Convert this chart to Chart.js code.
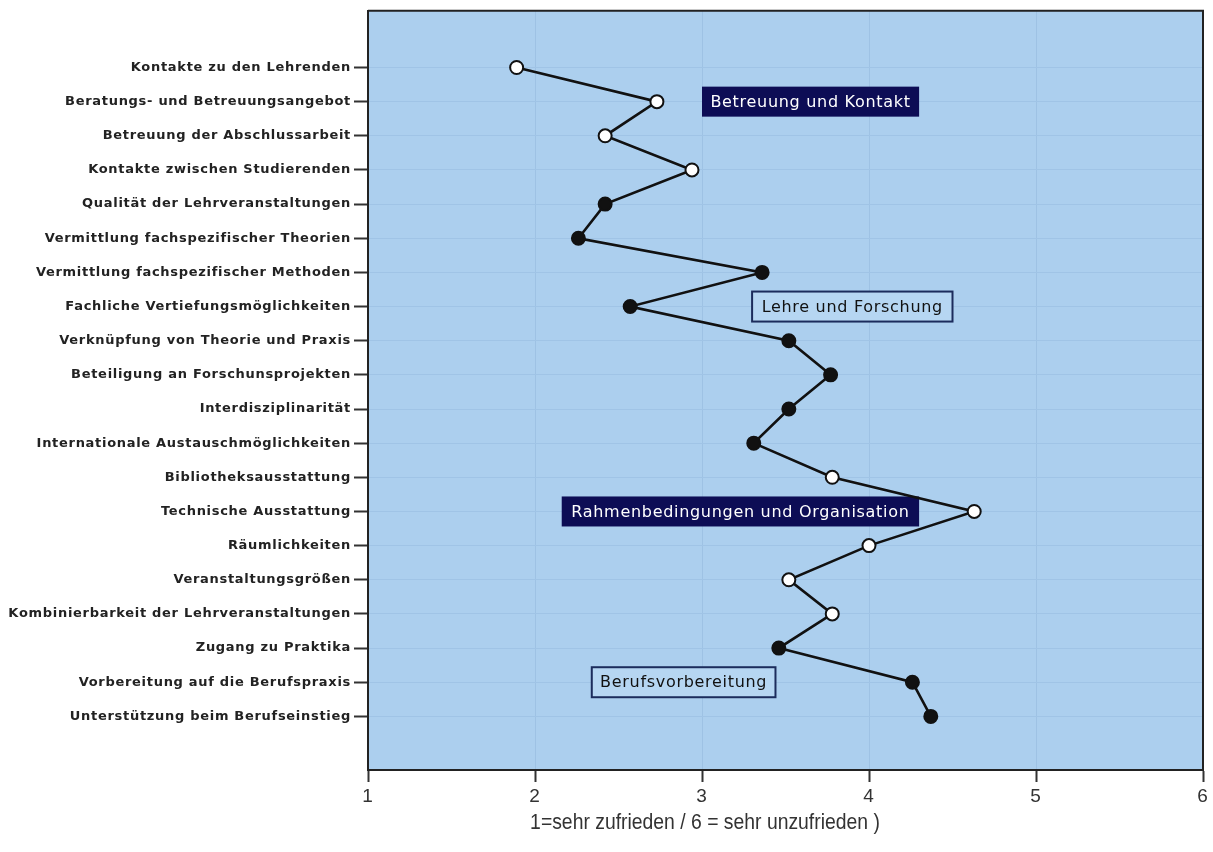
<!DOCTYPE html>
<html>
<head>
<meta charset="utf-8">
<script src="https://cdn.jsdelivr.net/npm/chart.js@4.4.1/dist/chart.umd.min.js"></script>
<style>
  body { margin: 0; background: #fff; }
  canvas { display: block; }
</style>
</head>
<body>
<canvas id="chart" width="1213" height="852"></canvas>
<script>
// items, top to bottom
const categories = [
  'Kontakte zu den Lehrenden',
  'Beratungs- und Betreuungsangebot',
  'Betreuung der Abschlussarbeit',
  'Kontakte zwischen Studierenden',
  'Qualität der Lehrveranstaltungen',
  'Vermittlung fachspezifischer Theorien',
  'Vermittlung fachspezifischer Methoden',
  'Fachliche Vertiefungsmöglichkeiten',
  'Verknüpfung von Theorie und Praxis',
  'Beteiligung an Forschunsprojekten',
  'Interdisziplinarität',
  'Internationale Austauschmöglichkeiten',
  'Bibliotheksausstattung',
  'Technische Ausstattung',
  'Räumlichkeiten',
  'Veranstaltungsgrößen',
  'Kombinierbarkeit der Lehrveranstaltungen',
  'Zugang zu Praktika',
  'Vorbereitung auf die Berufspraxis',
  'Unterstützung beim Berufseinstieg'
];
const scores = [1.89, 2.73, 2.42, 2.94, 2.42, 2.26, 3.36, 2.57, 3.52, 3.77,
                3.52, 3.31, 3.78, 4.63, 4.00, 3.52, 3.78, 3.46, 4.26, 4.37];
const groupOfItem = [0, 0, 0, 0, 1, 1, 1, 1, 1, 1, 1, 1, 2, 2, 2, 2, 2, 3, 3, 3];
const groupNames = ['Betreuung und Kontakt', 'Lehre und Forschung',
                    'Rahmenbedingungen und Organisation', 'Berufsvorbereitung'];
const xTicks = [1, 2, 3, 4, 5, 6];
const xTitle = '1=sehr zufrieden / 6 = sehr unzufrieden )';

// look of the group labels (x in scale units, row = item index)
const groupBoxes = [
  { x0: 3.0, x1: 4.3, row: 1, dark: true },
  { x0: 3.3, x1: 4.5, row: 7, dark: false },
  { x0: 2.16, x1: 4.3, row: 13, dark: true },
  { x0: 2.34, x1: 3.44, row: 18, dark: false }
];
const openMarker = [true, false, true, false];

const panel = {
  id: 'panel',
  beforeDraw(chart) {
    const { ctx, chartArea: a } = chart;
    ctx.save();
    ctx.fillStyle = '#accfee';
    ctx.fillRect(a.left, a.top, a.right - a.left, a.bottom - a.top);
    ctx.restore();
    // wide spacing for the item labels
    ctx.letterSpacing = '0.7px';
  },
  beforeDatasetsDraw(chart) {
    const { ctx, chartArea: a, scales: { x, y } } = chart;
    ctx.save();
    ctx.strokeStyle = '#222';
    ctx.lineWidth = 2;
    ctx.beginPath();
    ctx.moveTo(a.left, a.top);
    ctx.lineTo(a.right, a.top);
    ctx.lineTo(a.right, a.bottom);
    ctx.stroke();

    ctx.letterSpacing = '0.7px';
    ctx.font = '16px "DejaVu Sans"';
    ctx.textAlign = 'center';
    ctx.textBaseline = 'middle';
    groupBoxes.forEach((b, i) => {
      const l = x.getPixelForValue(b.x0);
      const r = x.getPixelForValue(b.x1);
      const cy = y.getPixelForValue(b.row);
      const h = 30;
      if (b.dark) {
        ctx.fillStyle = '#0d0d55';
        ctx.fillRect(l, cy - h / 2, r - l, h);
        ctx.fillStyle = '#fff';
      } else {
        ctx.fillStyle = '#b6d6f2';
        ctx.fillRect(l, cy - h / 2, r - l, h);
        ctx.strokeStyle = '#1c2c5c';
        ctx.lineWidth = 2;
        ctx.strokeRect(l, cy - h / 2, r - l, h);
        ctx.fillStyle = '#111';
      }
      ctx.fillText(groupNames[i], (l + r) / 2, cy + 1);
    });
    ctx.restore();
  },
  afterDraw(chart) {
    const { ctx } = chart;
    ctx.save();
    ctx.letterSpacing = '0px';
    ctx.font = '22px "Liberation Sans"';
    ctx.fillStyle = '#333';
    ctx.textAlign = 'center';
    ctx.textBaseline = 'middle';
    ctx.translate(705, 823);
    ctx.scale(0.88, 1);
    ctx.fillText(xTitle, 0, 0);
    ctx.restore();
  }
};

new Chart(document.getElementById('chart'), {
  type: 'scatter',
  data: {
    datasets: [{
      data: scores.map((v, i) => ({ x: v, y: i })),
      showLine: true,
      borderColor: '#111',
      borderWidth: 2.6,
      pointRadius: 6.5,
      pointHoverRadius: 6.5,
      pointBorderColor: '#111',
      pointBorderWidth: 2,
      pointBackgroundColor: groupOfItem.map(g => openMarker[g] ? '#fff' : '#111')
    }]
  },
  options: {
    responsive: false,
    devicePixelRatio: 1,
    animation: false,
    layout: { padding: { left: 0, right: 10, top: 8, bottom: 0 } },
    plugins: { legend: { display: false }, tooltip: { enabled: false } },
    scales: {
      x: {
        type: 'linear',
        min: 1,
        max: 6,
        afterBuildTicks: s => { s.ticks = xTicks.map(v => ({ value: v })); },
        afterFit: s => { s.height = 82; },
        grid: { color: '#9ec2e4', lineWidth: 1, tickColor: '#333', tickLength: 12, tickWidth: 2 },
        border: { color: '#222', width: 2 },
        ticks: { color: '#333', font: { family: 'Liberation Sans', size: 19 }, padding: 3 }
      },
      y: {
        type: 'linear',
        reverse: true,
        min: -1.66,
        max: 20.57,
        afterBuildTicks: s => { s.ticks = categories.map((c, i) => ({ value: i })); },
        afterFit: s => { s.width = 368; },
        grid: { color: '#a0c4e6', lineWidth: 1, tickColor: '#333', tickLength: 14, tickWidth: 2 },
        border: { color: '#222', width: 2 },
        ticks: {
          autoSkip: false,
          color: '#222',
          font: { family: 'DejaVu Sans', size: 13, weight: 'bold' },
          padding: 3,
          callback: v => categories[v]
        }
      }
    }
  },
  plugins: [panel]
});
</script>
</body>
</html>
